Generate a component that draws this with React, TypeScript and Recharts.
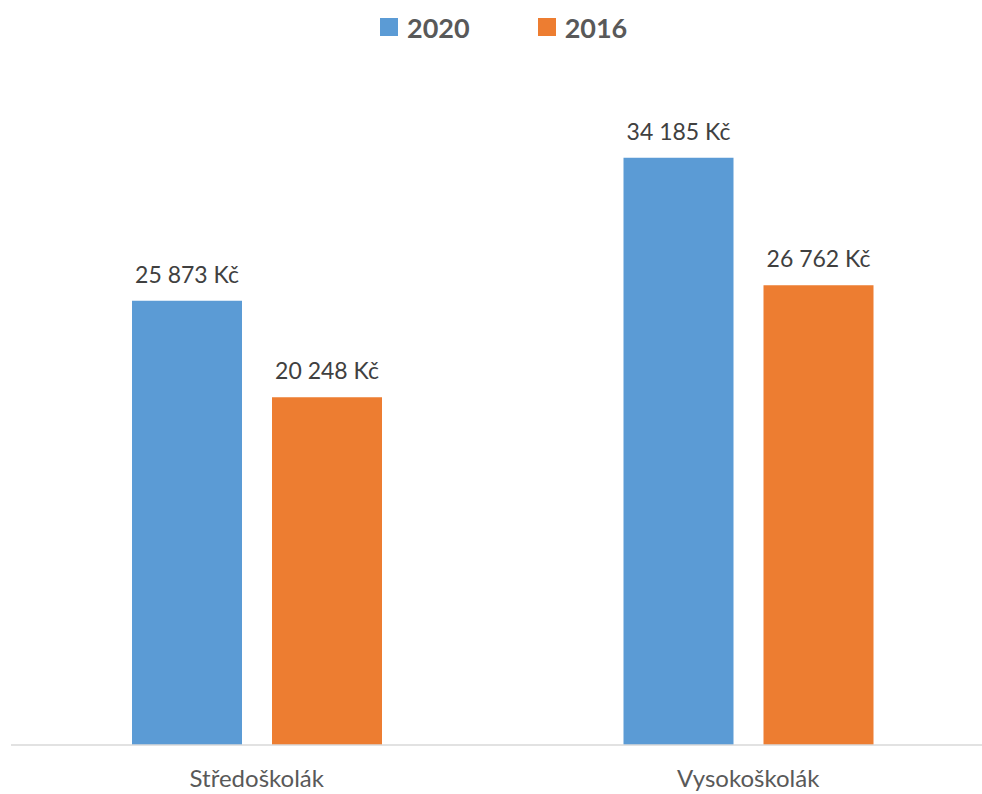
import React from "react";
import { BarChart, Bar, XAxis, YAxis, LabelList, Legend } from "recharts";

const categories = ["Středoškolák", "Vysokoškolák"];
const values2020 = [25873, 34185];
const values2016 = [20248, 26762];
const seriesNames = ["2020", "2016"];
const seriesColors = ["#5B9BD5", "#ED7D31"];

const data = categories.map((name, i) => ({
  name,
  y2020: values2020[i],
  y2016: values2016[i],
}));

const FONT = "Lato, 'Open Sans', sans-serif";

const formatKc = (v: number) =>
  String(v).replace(/\B(?=(\d{3})+(?!\d))/g, " ") + " Kč";

const LegendContent = () => (
  <div
    style={{
      display: "flex",
      justifyContent: "flex-start",
      alignItems: "center",
      fontFamily: FONT,
      fontWeight: 700,
      fontSize: 27,
      color: "#595959",
      height: 0,
      position: "relative",
      top: 27,
      paddingLeft: 380,
    }}
  >
    {seriesNames.map((s, i) => (
      <div
        key={s}
        style={{
          display: "flex",
          alignItems: "center",
          marginLeft: i === 0 ? 0 : 68,
        }}
      >
        <span
          style={{
            display: "inline-block",
            width: 18,
            height: 18,
            background: seriesColors[i],
            marginRight: 9,
          }}
        />
        <span>{s}</span>
      </div>
    ))}
  </div>
);

export default function App() {
  return (
    <div
      style={{
        position: "absolute",
        left: 0,
        top: 0,
        width: 982,
        height: 794,
        overflow: "hidden",
        background: "#fff",
      }}
    >
      <BarChart
        width={1000}
        height={794}
        data={data}
        margin={{ top: 58, right: 6, bottom: 19, left: 11 }}
        barSize={110}
        barGap={30}
      >
        <Legend
          verticalAlign="top"
          content={<LegendContent />}
          wrapperStyle={{ top: 0, left: 0, width: 982, height: 0 }}
        />
        <XAxis
          dataKey="name"
          axisLine={{ stroke: "#D9D9D9", strokeWidth: 1.5 }}
          tickLine={false}
          height={30}
          tickMargin={19}
          tick={{ fill: "#595959", fontSize: 24, fontFamily: FONT }}
        />
        <YAxis hide domain={[0, 40000]} />
        <Bar dataKey="y2020" fill={seriesColors[0]} isAnimationActive={false}>
          <LabelList
            dataKey="y2020"
            position="top"
            offset={18}
            formatter={(v: any) => formatKc(Number(v))}
            style={{ fill: "#404040", fontSize: 23, fontFamily: FONT }}
          />
        </Bar>
        <Bar dataKey="y2016" fill={seriesColors[1]} isAnimationActive={false}>
          <LabelList
            dataKey="y2016"
            position="top"
            offset={18}
            formatter={(v: any) => formatKc(Number(v))}
            style={{ fill: "#404040", fontSize: 23, fontFamily: FONT }}
          />
        </Bar>
      </BarChart>
    </div>
  );
}
